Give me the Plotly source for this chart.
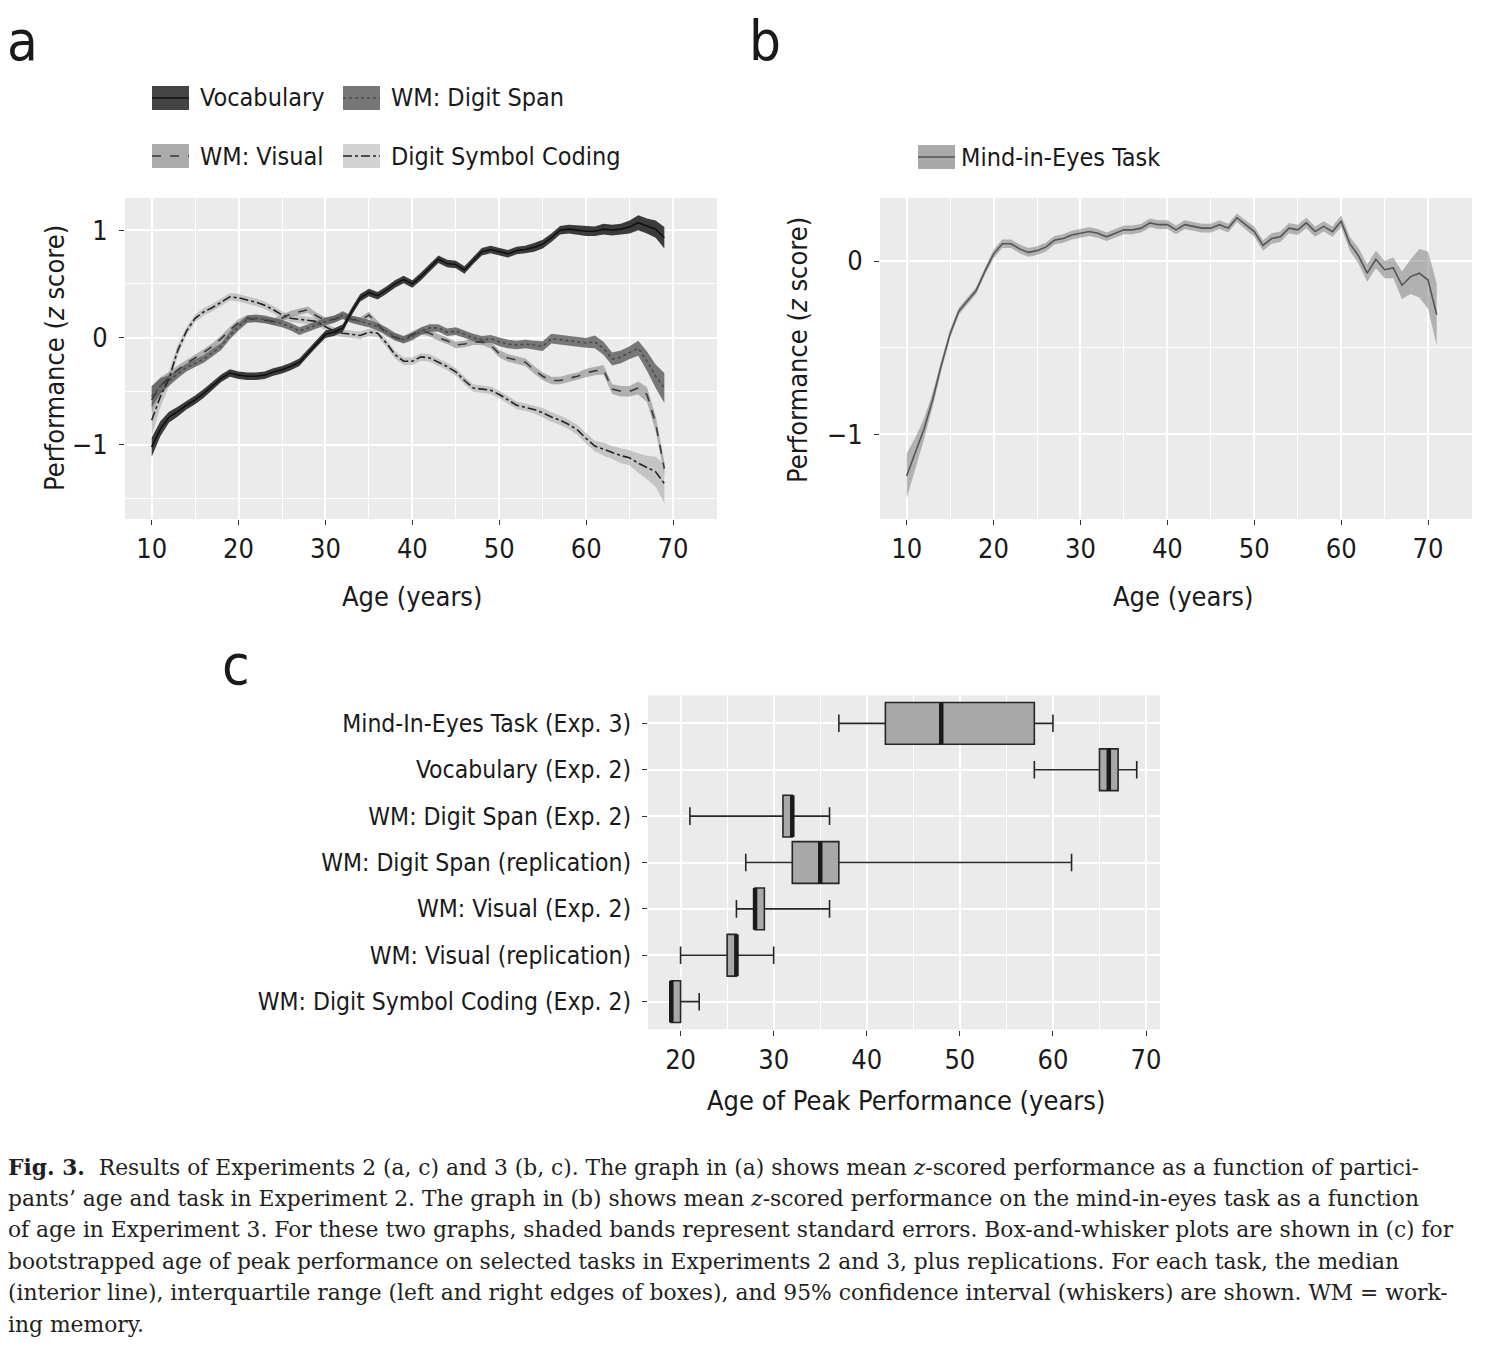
import plotly.graph_objects as go

# ---------------- data: panel a (Experiment 2) ----------------
ages_a = list(range(10, 70))
vocab = [-1.02, -0.85, -0.74, -0.69, -0.63, -0.58, -0.52, -0.45, -0.38, -0.33,
         -0.35, -0.36, -0.36, -0.35, -0.32, -0.30, -0.27, -0.23, -0.14, -0.05,
         0.03, 0.05, 0.09, 0.24, 0.37, 0.42, 0.39, 0.44, 0.50, 0.54,
         0.50, 0.57, 0.65, 0.73, 0.69, 0.68, 0.63, 0.72, 0.80, 0.82,
         0.80, 0.78, 0.81, 0.82, 0.84, 0.87, 0.93, 1.00, 1.01, 1.00,
         0.99, 0.99, 1.01, 1.00, 1.01, 1.03, 1.07, 1.04, 1.01, 0.93]
vocab_se = [0.09, 0.07, 0.05, 0.045, 0.04, 0.04, 0.04, 0.04, 0.035, 0.035,
            0.035, 0.035, 0.035, 0.035, 0.035, 0.035, 0.035, 0.035, 0.035, 0.035,
            0.035, 0.035, 0.035, 0.035, 0.035, 0.035, 0.035, 0.035, 0.035, 0.035,
            0.035, 0.035, 0.035, 0.035, 0.035, 0.035, 0.035, 0.035, 0.035, 0.035,
            0.035, 0.035, 0.035, 0.035, 0.04, 0.04, 0.04, 0.04, 0.04, 0.045,
            0.045, 0.045, 0.05, 0.05, 0.05, 0.06, 0.07, 0.07, 0.08, 0.10]
digit_span = [-0.55, -0.45, -0.40, -0.34, -0.28, -0.24, -0.20, -0.14, -0.08, 0.02,
              0.10, 0.17, 0.18, 0.17, 0.15, 0.13, 0.10, 0.06, 0.09, 0.12,
              0.15, 0.17, 0.21, 0.17, 0.15, 0.13, 0.10, 0.06, 0.01, -0.02,
              0.01, 0.06, 0.09, 0.09, 0.05, 0.06, 0.03, 0.00, -0.02, -0.01,
              -0.04, -0.06, -0.07, -0.06, -0.07, -0.08, -0.01, -0.02, -0.03, -0.04,
              -0.05, -0.04, -0.10, -0.20, -0.18, -0.14, -0.10, -0.22, -0.36, -0.47]
digit_span_se = [0.10, 0.07, 0.05, 0.04, 0.035, 0.035, 0.035, 0.035, 0.035, 0.035,
                 0.035, 0.035, 0.035, 0.035, 0.035, 0.035, 0.035, 0.035, 0.035, 0.035,
                 0.035, 0.035, 0.035, 0.035, 0.035, 0.035, 0.035, 0.035, 0.035, 0.035,
                 0.035, 0.035, 0.035, 0.035, 0.035, 0.035, 0.035, 0.035, 0.035, 0.035,
                 0.04, 0.04, 0.04, 0.04, 0.04, 0.045, 0.045, 0.045, 0.045, 0.045,
                 0.045, 0.06, 0.06, 0.06, 0.06, 0.06, 0.07, 0.09, 0.11, 0.14]
wm_visual = [-0.58, -0.45, -0.37, -0.30, -0.24, -0.19, -0.14, -0.08, -0.01, 0.07,
             0.14, 0.18, 0.17, 0.16, 0.15, 0.18, 0.22, 0.24, 0.26, 0.20,
             0.16, 0.17, 0.20, 0.17, 0.16, 0.21, 0.12, 0.04, 0.00, -0.02,
             0.03, 0.06, 0.04, 0.00, -0.03, -0.07, -0.06, -0.04, -0.04, -0.07,
             -0.15, -0.19, -0.21, -0.23, -0.30, -0.36, -0.40, -0.40, -0.38, -0.36,
             -0.33, -0.31, -0.30, -0.48, -0.50, -0.50, -0.47, -0.53, -0.80, -1.22]
wm_visual_se = [0.12, 0.08, 0.05, 0.04, 0.03, 0.03, 0.03, 0.03, 0.03, 0.03,
                0.03, 0.03, 0.03, 0.03, 0.03, 0.03, 0.03, 0.03, 0.03, 0.03,
                0.03, 0.03, 0.03, 0.03, 0.03, 0.03, 0.03, 0.03, 0.03, 0.03,
                0.03, 0.03, 0.03, 0.03, 0.03, 0.03, 0.03, 0.03, 0.03, 0.03,
                0.035, 0.035, 0.035, 0.035, 0.035, 0.035, 0.035, 0.035, 0.035, 0.035,
                0.04, 0.04, 0.045, 0.045, 0.05, 0.05, 0.06, 0.07, 0.07, 0.06]
dsc = [-0.77, -0.55, -0.38, -0.12, 0.06, 0.18, 0.24, 0.28, 0.33, 0.38,
       0.37, 0.35, 0.33, 0.30, 0.26, 0.21, 0.18, 0.17, 0.16, 0.15,
       0.10, 0.06, 0.04, 0.03, 0.02, 0.05, 0.04, -0.05, -0.16, -0.22,
       -0.22, -0.18, -0.19, -0.23, -0.27, -0.32, -0.40, -0.47, -0.48, -0.49,
       -0.53, -0.58, -0.63, -0.65, -0.67, -0.70, -0.74, -0.77, -0.81, -0.86,
       -0.94, -1.01, -1.04, -1.07, -1.10, -1.12, -1.17, -1.21, -1.25, -1.36]
dsc_se = [0.15, 0.10, 0.07, 0.05, 0.035, 0.035, 0.035, 0.035, 0.035, 0.035,
          0.035, 0.035, 0.035, 0.035, 0.035, 0.035, 0.035, 0.035, 0.035, 0.035,
          0.035, 0.035, 0.035, 0.035, 0.035, 0.035, 0.035, 0.035, 0.035, 0.035,
          0.035, 0.035, 0.035, 0.035, 0.035, 0.035, 0.035, 0.035, 0.035, 0.035,
          0.035, 0.035, 0.035, 0.035, 0.035, 0.045, 0.045, 0.045, 0.045, 0.045,
          0.05, 0.05, 0.06, 0.06, 0.07, 0.07, 0.09, 0.11, 0.14, 0.18]

series_names = ["Vocabulary", "WM: Digit Span", "WM: Visual", "Digit Symbol Coding"]

# ---------------- data: panel b (Experiment 3) ----------------
ages_b = list(range(10, 72))
mind_eyes = [-1.24, -1.11, -0.97, -0.80, -0.60, -0.42, -0.29, -0.23, -0.17, -0.06,
             0.04, 0.10, 0.10, 0.07, 0.05, 0.06, 0.08, 0.12, 0.13, 0.15,
             0.16, 0.17, 0.16, 0.14, 0.16, 0.18, 0.18, 0.19, 0.22, 0.21,
             0.21, 0.18, 0.21, 0.20, 0.19, 0.19, 0.21, 0.19, 0.25, 0.21,
             0.17, 0.09, 0.13, 0.14, 0.19, 0.18, 0.22, 0.17, 0.20, 0.17,
             0.23, 0.10, 0.03, -0.07, 0.01, -0.05, -0.04, -0.14, -0.09, -0.07,
             -0.11, -0.31]
mind_eyes_se = [0.13, 0.09, 0.06, 0.04, 0.03, 0.025, 0.02, 0.02, 0.02, 0.02,
                0.025, 0.025, 0.025, 0.025, 0.025, 0.025, 0.025, 0.025, 0.025, 0.025,
                0.025, 0.025, 0.025, 0.025, 0.025, 0.025, 0.025, 0.025, 0.025, 0.025,
                0.025, 0.025, 0.025, 0.025, 0.025, 0.025, 0.025, 0.025, 0.025, 0.025,
                0.03, 0.03, 0.03, 0.03, 0.03, 0.03, 0.03, 0.03, 0.03, 0.03,
                0.035, 0.04, 0.045, 0.05, 0.05, 0.05, 0.06, 0.08, 0.10, 0.14,
                0.165, 0.18]

# ---------------- data: panel c (age of peak performance) ----------------
tasks = ["Mind-In-Eyes Task (Exp. 3)", "Vocabulary (Exp. 2)", "WM: Digit Span (Exp. 2)",
         "WM: Digit Span (replication)", "WM: Visual (Exp. 2)", "WM: Visual (replication)",
         "WM: Digit Symbol Coding (Exp. 2)"]
whisker_lo = [37, 58, 21, 27, 26, 20, 19]
q1 = [42, 65, 31, 32, 28, 25, 19]
med = [48, 66, 32, 35, 28, 26, 19]
q3 = [58, 67, 32, 37, 29, 26, 20]
whisker_hi = [60, 69, 36, 62, 36, 30, 22]

# ---------------- layout helpers ----------------
W, H = 1494, 1346
def px(x):
    return x / W
def py(y):
    return 1 - y / H

SANS = "DejaVu Sans Condensed, Liberation Sans Narrow, Arial Narrow, sans-serif"
SERIF = "DejaVu Serif, Liberation Serif, serif"
TXT = "#1a1a1a"
FS_NUM = 27
FS_TXT = 25

band_cols = ["rgba(40,40,40,0.9)", "rgba(90,90,90,0.8)", "rgba(150,150,150,0.7)", "rgba(170,170,170,0.6)"]
line_cols = ["#111111", "#4a4a4a", "#3a3a3a", "#222222"]
line_dash = ["solid", "dot", "dash", "dashdot"]
legend_cols = ["#444444", "#777777", "#ababab", "#d3d3d3"]

fig = go.Figure()

means = [vocab, digit_span, wm_visual, dsc]
ses = [vocab_se, digit_span_se, wm_visual_se, dsc_se]

# ribbons first (lightest at bottom), then lines
for i in [3, 2, 1, 0]:
    m, s = means[i], ses[i]
    up = [a + b for a, b in zip(m, s)]
    lo = [a - b for a, b in zip(m, s)]
    fig.add_trace(go.Scatter(x=ages_a + ages_a[::-1], y=up + lo[::-1], fill="toself",
                             fillcolor=band_cols[i], line=dict(width=0), mode="lines",
                             showlegend=False, hoverinfo="skip", xaxis="x", yaxis="y"))
for i in [3, 2, 1, 0]:
    fig.add_trace(go.Scatter(x=ages_a, y=means[i], mode="lines", name=series_names[i],
                             line=dict(color=line_cols[i], width=1.6, dash=line_dash[i]),
                             showlegend=False, xaxis="x", yaxis="y"))

# panel b
up_b = [a + b for a, b in zip(mind_eyes, mind_eyes_se)]
lo_b = [a - b for a, b in zip(mind_eyes, mind_eyes_se)]
fig.add_trace(go.Scatter(x=ages_b + ages_b[::-1], y=up_b + lo_b[::-1], fill="toself",
                         fillcolor="rgba(120,120,120,0.5)", line=dict(width=0), mode="lines",
                         showlegend=False, hoverinfo="skip", xaxis="x2", yaxis="y2"))
fig.add_trace(go.Scatter(x=ages_b, y=mind_eyes, mode="lines", name="Mind-in-Eyes Task",
                         line=dict(color="#555555", width=1.6), showlegend=False,
                         xaxis="x2", yaxis="y2"))

# panel c
n = len(tasks)
pos = [n - 1 - i for i in range(n)]
fig.add_trace(go.Box(y=pos, q1=q1, median=med, q3=q3, lowerfence=whisker_lo, upperfence=whisker_hi,
                     orientation="h", width=0.9, whiskerwidth=0.42, fillcolor="#a8a8a8",
                     line=dict(color="#262626", width=1.6), boxpoints=False,
                     showlegend=False, xaxis="x3", yaxis="y3", hoverinfo="skip"))
mx, my = [], []
for p, m in zip(pos, med):
    mx += [m, m, None]
    my += [p - 0.45, p + 0.45, None]
fig.add_trace(go.Scatter(x=mx, y=my, mode="lines", line=dict(color="#1a1a1a", width=4.5),
                         showlegend=False, xaxis="x3", yaxis="y3", hoverinfo="skip"))

def xax(domain, rng, minor_dtick, tickvals):
    return dict(domain=domain, range=rng, tickvals=tickvals, ticks="outside", ticklen=5,
                tickcolor="#333333", tickwidth=1, tickfont=dict(family=SANS, size=FS_NUM, color=TXT),
                showgrid=True, gridcolor="white", gridwidth=1.8, zeroline=False, showline=False,
                ticklabelstandoff=1,
                minor=dict(dtick=minor_dtick, tick0=0, showgrid=True, gridcolor="white",
                           gridwidth=0.8, ticks=""))

layout = dict(
    width=W, height=H, margin=dict(l=0, r=0, t=0, b=0),
    paper_bgcolor="white", plot_bgcolor="#ebebeb", showlegend=False,
    xaxis=xax([px(125), px(717)], [6.93, 75.06], 5, [10, 20, 30, 40, 50, 60, 70]),
    yaxis=xax([py(519), py(198)], [-1.69, 1.30], 0.5, [-1, 0, 1]),
    xaxis2=xax([px(880), px(1472)], [6.93, 75.06], 5, [10, 20, 30, 40, 50, 60, 70]),
    yaxis2=xax([py(519), py(198)], [-1.49, 0.364], 0.5, [-1, 0]),
    xaxis3=xax([px(648), px(1160)], [16.5, 71.5], 5, [20, 30, 40, 50, 60, 70]),
)
layout["yaxis"]["ticklabelstandoff"] = 6
layout["yaxis2"]["ticklabelstandoff"] = 6
layout["xaxis"]["anchor"] = "y"
layout["yaxis"]["anchor"] = "x"
layout["xaxis2"]["anchor"] = "y2"
layout["yaxis2"]["anchor"] = "x2"
layout["xaxis3"]["anchor"] = "y3"
layout["yaxis3"] = dict(domain=[py(1029.5), py(695.5)], range=[-0.6, n - 1 + 0.6], anchor="x3",
                        tickvals=pos, ticktext=tasks, ticks="outside", ticklen=5,
                        tickcolor="#333333", tickfont=dict(family=SANS, size=24.5, color=TXT),
                        showgrid=True, gridcolor="white", gridwidth=1.8, zeroline=False,
                        ticklabelstandoff=6)
fig.update_layout(**layout)

ann = []
def text(x, y, s, size=FS_TXT, angle=0, xanchor="center", family=SANS, color=TXT):
    ann.append(dict(x=px(x), y=py(y), xref="paper", yref="paper", text=s, showarrow=False,
                    font=dict(family=family, size=size, color=color), textangle=angle,
                    xanchor=xanchor, yanchor="middle"))

# panel letters
text(22, 40, "a", size=56)
text(765, 40, "b", size=56)
text(236, 664, "c", size=56)
# axis titles
text(412, 596, "Age (years)", size=27)
text(1183, 596, "Age (years)", size=27)
text(906, 1100, "Age of Peak Performance (years)", size=27)
text(55, 358, "Performance (<i>z</i> score)", size=27, angle=-90)
text(798, 350, "Performance (<i>z</i> score)", size=27, angle=-90)

# legends (drawn as decorations)
shapes = []
leg_pos = [(152, 98), (343, 98), (152, 156), (343, 156)]
for i, (lx, ly) in enumerate(leg_pos):
    shapes.append(dict(type="rect", xref="paper", yref="paper", x0=px(lx), x1=px(lx + 37),
                       y0=py(ly + 12), y1=py(ly - 12), fillcolor=legend_cols[i], line=dict(width=0)))
    shapes.append(dict(type="line", xref="paper", yref="paper", x0=px(lx), x1=px(lx + 37),
                       y0=py(ly), y1=py(ly), line=dict(color=line_cols[i], width=1.6, dash=line_dash[i])))
    text(lx + 46, ly, series_names[i], xanchor="left")
shapes.append(dict(type="rect", xref="paper", yref="paper", x0=px(918), x1=px(955),
                   y0=py(169), y1=py(145), fillcolor="#a9a9a9", line=dict(width=0)))
shapes.append(dict(type="line", xref="paper", yref="paper", x0=px(918), x1=px(955),
                   y0=py(157), y1=py(157), line=dict(color="#555555", width=1.6)))
text(959, 157, "Mind-in-Eyes Task", xanchor="left")

# caption
caption = [
    "<b>Fig. 3.</b>  Results of Experiments 2 (a, c) and 3 (b, c). The graph in (a) shows mean <i>z</i>-scored performance as a function of partici-",
    "pants’ age and task in Experiment 2. The graph in (b) shows mean <i>z</i>-scored performance on the mind-in-eyes task as a function",
    "of age in Experiment 3. For these two graphs, shaded bands represent standard errors. Box-and-whisker plots are shown in (c) for",
    "bootstrapped age of peak performance on selected tasks in Experiments 2 and 3, plus replications. For each task, the median",
    "(interior line), interquartile range (left and right edges of boxes), and 95% confidence interval (whiskers) are shown. WM = work-",
    "ing memory.",
]
for k, line in enumerate(caption):
    text(6, 1167 + k * 31.4, line, size=21.8, xanchor="left", family=SERIF, color="#231f20")

fig.update_layout(annotations=ann, shapes=shapes)
fig.write_html("out.html", config={"displayModeBar": False},
               post_script="document.body.style.margin='0';document.body.style.padding='0';")
